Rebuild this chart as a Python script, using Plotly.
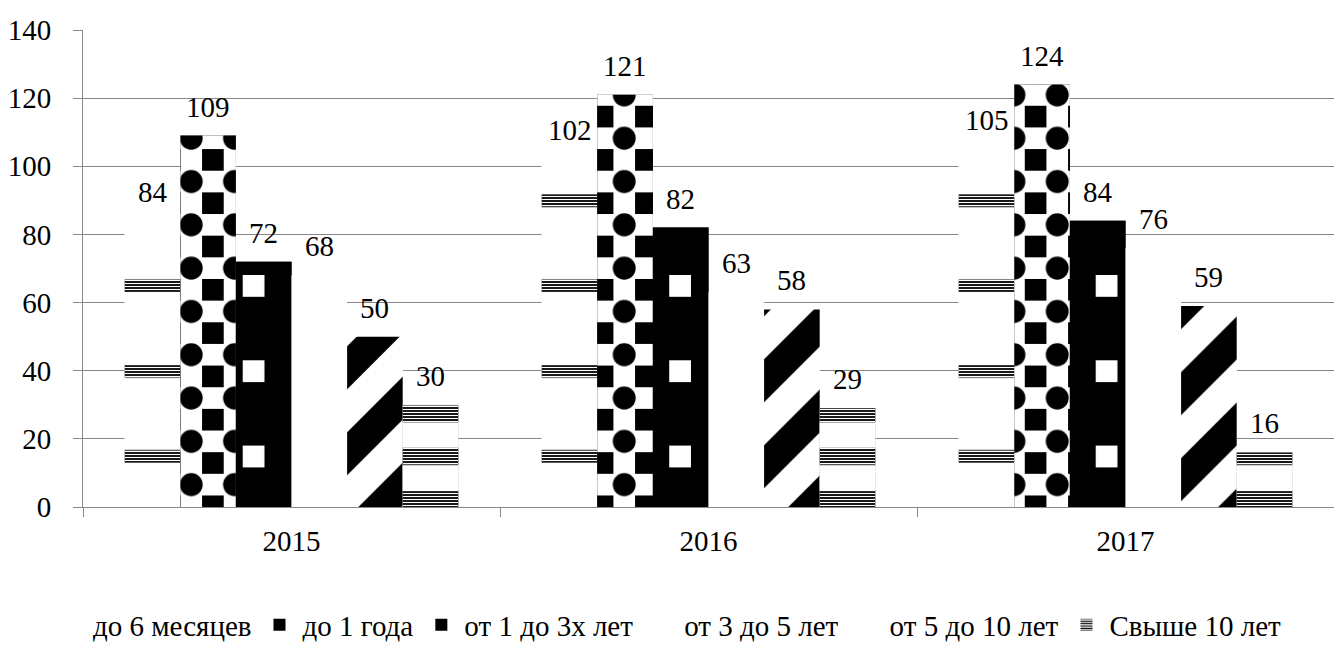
import plotly.graph_objects as go

# Число случаев по длительности, по годам
years = ["2015", "2016", "2017"]
series_names = [
    "до 6 месяцев",
    "до 1 года",
    "от 1 до 3х лет",
    "от 3 до 5 лет",
    "от 5 до 10 лет",
    "Свыше 10 лет",
]
under_6_months = [84, 102, 105]
under_1_year = [109, 121, 124]
from_1_to_3_years = [72, 82, 84]
from_3_to_5_years = [68, 63, 76]
from_5_to_10_years = [50, 58, 59]
over_10_years = [30, 29, 16]
y_ticks = [0, 20, 40, 60, 80, 100, 120, 140]

series_values = [
    under_6_months,
    under_1_year,
    from_1_to_3_years,
    from_3_to_5_years,
    from_5_to_10_years,
    over_10_years,
]

FONT = "Liberation Serif"
GRID = "#878787"
CLEAR = "rgba(0,0,0,0)"

GROUP = 0.8
N = len(series_names)
BAR_W = GROUP / N


def bar_offset(j):
    return -GROUP / 2 + j * BAR_W


def pat(shape, fg, bg, size, solidity):
    return dict(shape=shape, fgcolor=fg, bgcolor=bg, fgopacity=1,
                size=size, solidity=solidity)


fine_stripes = pat("-", "white", CLEAR, 3, 0.4)

# legend swatch fill for each series
swatches = [
    dict(color="white"),
    dict(color="black"),
    dict(color="black"),
    dict(color="white"),
    dict(color="white"),
    dict(color="white", pattern=pat("-", "black", "white", 3, 0.5)),
]

# fill layers drawn over the swatch inside the plot
layers = [
    [pat("-", "white", "black", 85.3, 0.85), fine_stripes],
    [pat("+", "white", "black", 43.3, 0.75), pat(".", "black", CLEAR, 43.3, 0.22)],
    [pat("+", "black", "white", 85.3, 0.935)],
    [],
    [pat("/", "black", "white", 60.8, 0.5)],
    [pat("-", "white", "black", 42.65, 0.6), fine_stripes],
]

fig = go.Figure()

for j, (name, values) in enumerate(zip(series_names, series_values)):
    common = dict(
        x=years,
        y=values,
        width=BAR_W,
        offset=bar_offset(j),
        legendgroup=name,
        hoverinfo="skip",
        opacity=1,
    )
    fig.add_trace(
        go.Bar(
            name=name,
            showlegend=True,
            marker=dict(line=dict(width=0), opacity=1, **swatches[j]),
            **common,
        )
    )
    for p in layers[j]:
        fig.add_trace(
            go.Bar(
                name=name,
                showlegend=False,
                marker=dict(color=p["bgcolor"], opacity=1, line=dict(width=0), pattern=p),
                **common,
            )
        )

# value labels above the bars
for j, values in enumerate(series_values):
    for i, v in enumerate(values):
        fig.add_annotation(
            x=i + bar_offset(j) + BAR_W / 2,
            y=v,
            text=str(v),
            showarrow=False,
            yanchor="middle",
            yshift=29,
            font=dict(family=FONT, size=29, color="black"),
        )

fig.update_layout(
    width=1334,
    height=655,
    margin=dict(l=83, r=0, t=30, b=148, pad=0),
    barmode="overlay",
    paper_bgcolor="white",
    plot_bgcolor="white",
    font=dict(family=FONT, size=29, color="black"),
    legend=dict(
        orientation="h",
        xref="container",
        yref="container",
        x=0.5,
        xanchor="center",
        y=1 - 625 / 655,
        yanchor="middle",
        itemwidth=36,
        font=dict(family=FONT, size=29, color="black"),
        traceorder="normal",
        bgcolor=CLEAR,
    ),
    xaxis=dict(
        type="category",
        tickson="boundaries",
        ticks="outside",
        ticklen=9,
        tickcolor=GRID,
        showline=True,
        linecolor=GRID,
        showgrid=False,
        ticklabelstandoff=8,
        tickfont=dict(family=FONT, size=29, color="black"),
    ),
    yaxis=dict(
        range=[0, 140],
        tickvals=y_ticks,
        ticks="outside",
        ticklen=9,
        tickcolor=GRID,
        showline=True,
        linecolor=GRID,
        showgrid=True,
        gridcolor=GRID,
        gridwidth=1,
        zeroline=False,
        ticklabelstandoff=16,
        tickfont=dict(family=FONT, size=29, color="black"),
    ),
)

fig.write_html("out.html")
